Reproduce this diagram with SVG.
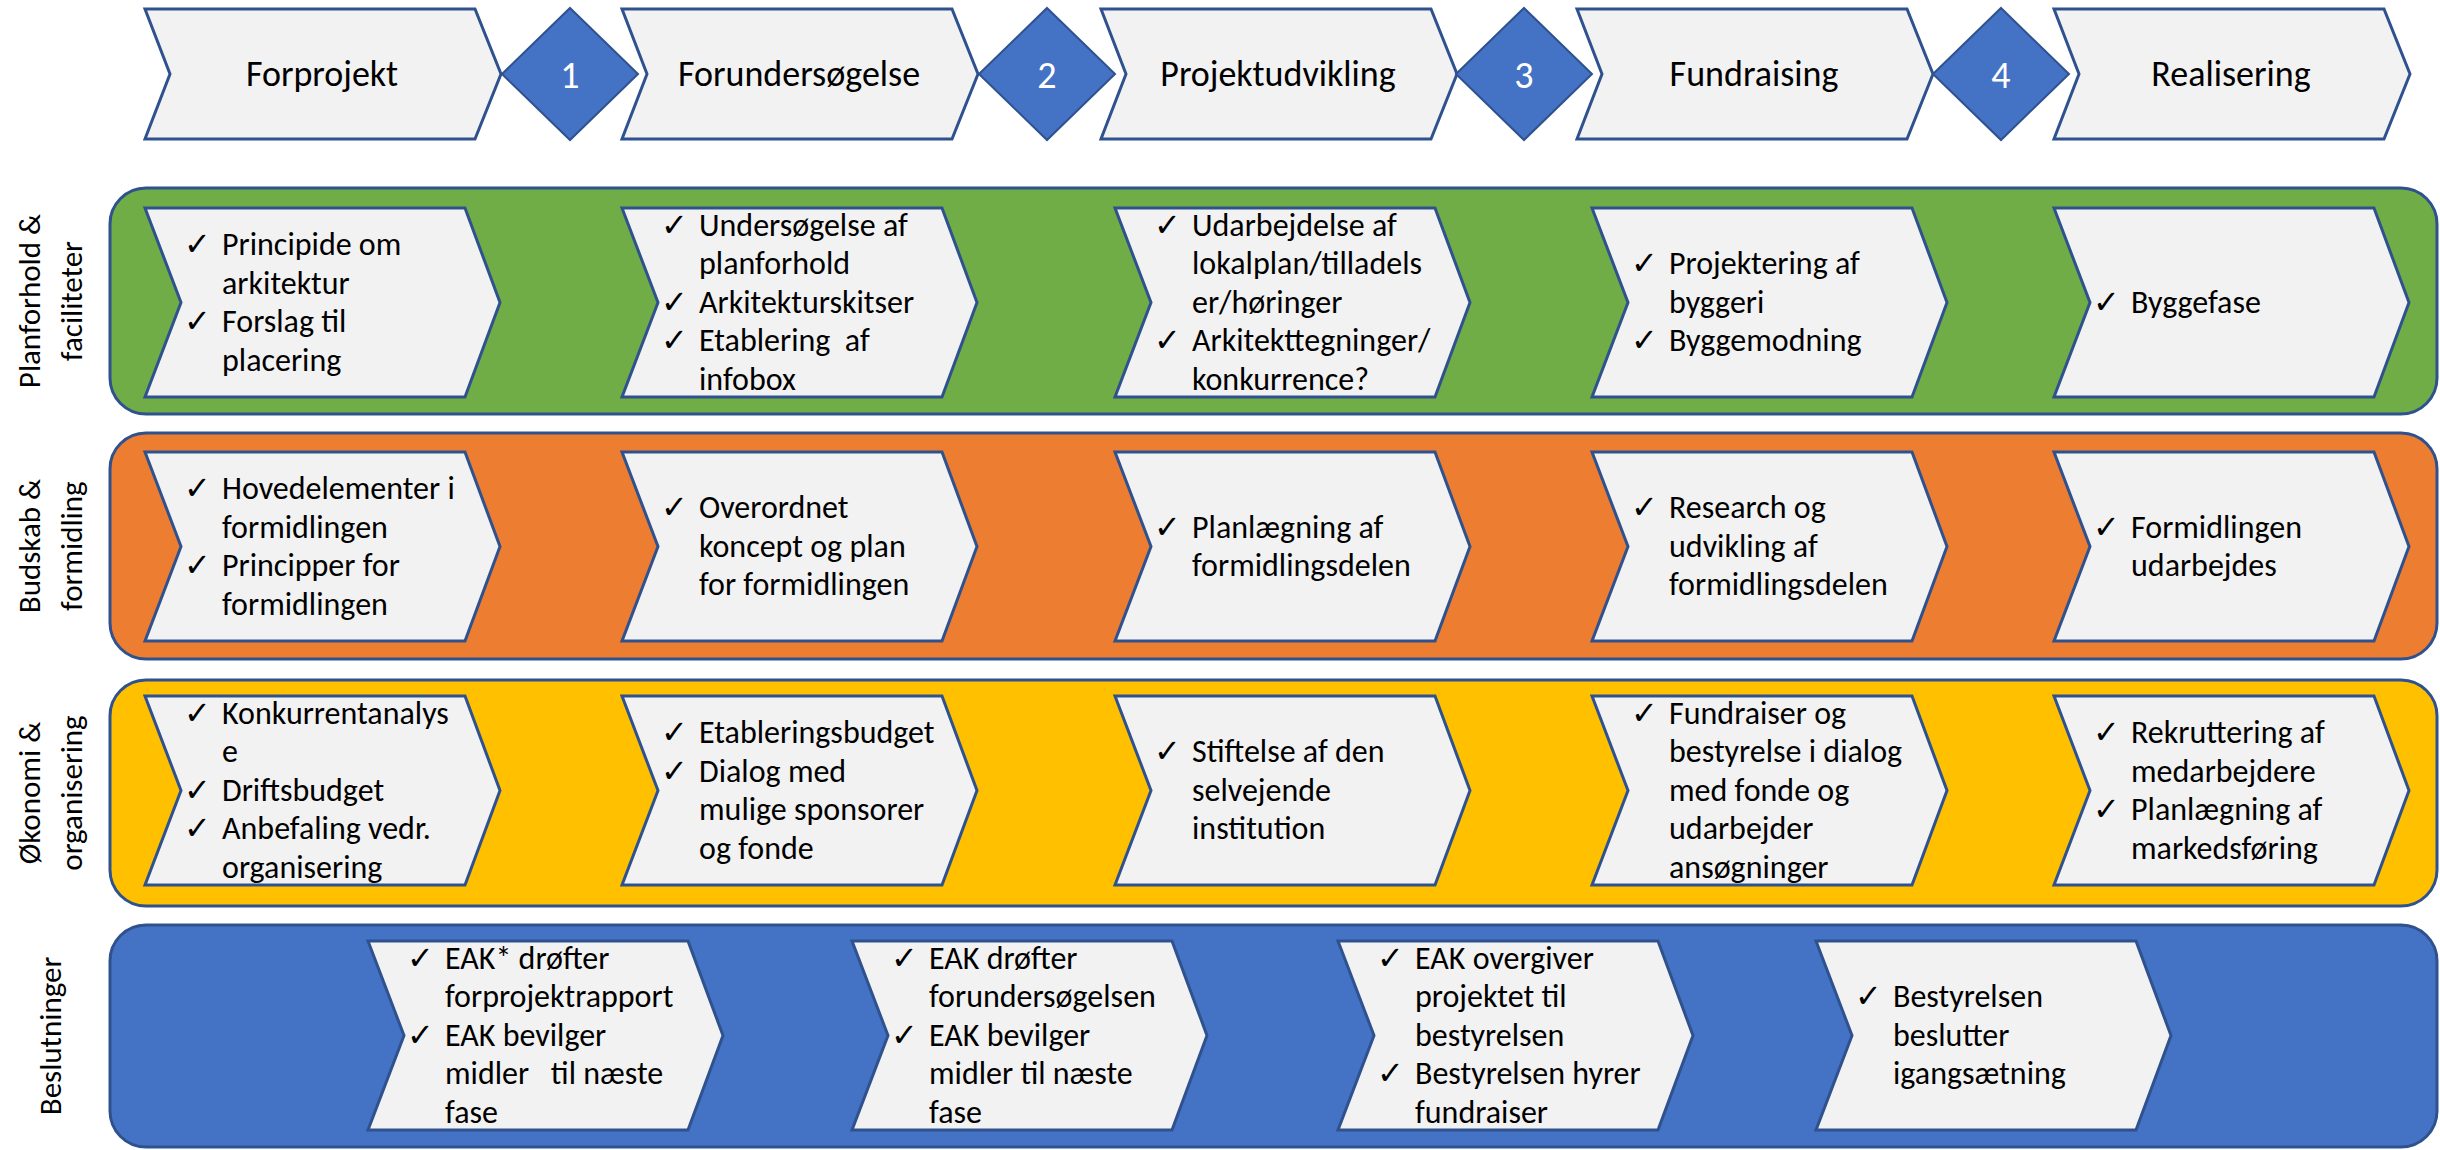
<svg xmlns="http://www.w3.org/2000/svg" xmlns:xlink="http://www.w3.org/1999/xlink" width="2440" height="1150" viewBox="0 0 2440 1150">
<style>
.band{stroke:#2F528F;stroke-width:3}
.chev{fill:#F2F2F2;stroke:#2F528F;stroke-width:3;stroke-linejoin:miter}
.dia{fill:#4472C4;stroke:#2F528F;stroke-width:2}
.t{font-family:Carlito,Calibri,Lato,"Liberation Sans",sans-serif;font-size:32px;fill:#000}
.h{font-family:Carlito,Calibri,Lato,"Liberation Sans",sans-serif;font-size:36px;fill:#000;text-anchor:middle}
.n{font-family:Carlito,Calibri,Lato,"Liberation Sans",sans-serif;font-size:38px;fill:#fff;text-anchor:middle}
.lbl{font-family:Carlito,Calibri,Lato,"Liberation Sans",sans-serif;font-size:31px;fill:#000;text-anchor:middle}
.ck{font-family:"DejaVu Sans",sans-serif;font-size:32px;font-weight:bold;fill:#000}
</style>
<defs>
<path id="topchev" d="M0,0 H330 L356,65 L330,130 H0 L25,65 Z"/>
<path id="inchev" d="M0,0 H320 L355,94.5 L320,189 H0 L36,94.5 Z"/>
<path id="diamond" d="M0,-66 L68,0 L0,66 L-68,0 Z"/>
</defs>
<rect width="2440" height="1150" fill="#fff"/>

<!-- Phase header -->
<g id="phase-forprojekt"><use xlink:href="#topchev" class="chev" x="145" y="9"/><text class="h" x="322" y="86">Forprojekt</text></g>
<g id="phase-forundersoegelse"><use xlink:href="#topchev" class="chev" x="622" y="9"/><text class="h" x="799" y="86">Forundersøgelse</text></g>
<g id="phase-projektudvikling"><use xlink:href="#topchev" class="chev" x="1101" y="9"/><text class="h" x="1278" y="86">Projektudvikling</text></g>
<g id="phase-fundraising"><use xlink:href="#topchev" class="chev" x="1577" y="9"/><text class="h" x="1754" y="86">Fundraising</text></g>
<g id="phase-realisering"><use xlink:href="#topchev" class="chev" x="2054" y="9"/><text class="h" x="2231" y="86">Realisering</text></g>
<g id="gate-1"><use xlink:href="#diamond" class="dia" x="570" y="74"/><text class="n" x="570" y="88">1</text></g>
<g id="gate-2"><use xlink:href="#diamond" class="dia" x="1047" y="74"/><text class="n" x="1047" y="88">2</text></g>
<g id="gate-3"><use xlink:href="#diamond" class="dia" x="1524" y="74"/><text class="n" x="1524" y="88">3</text></g>
<g id="gate-4"><use xlink:href="#diamond" class="dia" x="2001" y="74"/><text class="n" x="2001" y="88">4</text></g>

<!-- Lane labels -->
<g id="label-planforhold"><text class="lbl" transform="translate(40,301) rotate(-90)">Planforhold &amp;</text><text class="lbl" transform="translate(82,301) rotate(-90)">faciliteter</text></g>
<g id="label-budskab"><text class="lbl" transform="translate(40,546) rotate(-90)">Budskab &amp;</text><text class="lbl" transform="translate(82,546) rotate(-90)">formidling</text></g>
<g id="label-oekonomi"><text class="lbl" transform="translate(40,793) rotate(-90)">Økonomi &amp;</text><text class="lbl" transform="translate(82,793) rotate(-90)">organisering</text></g>
<g id="label-beslutninger"><text class="lbl" transform="translate(61,1036) rotate(-90)">Beslutninger</text></g>

<!-- Lanes -->
<g id="lane-green"><rect class="band" x="110" y="188" width="2327" height="226" rx="36" fill="#70AD47"/></g>
<g id="lane-orange"><rect class="band" x="110" y="433" width="2327" height="226" rx="36" fill="#ED7D31"/></g>
<g id="lane-yellow"><rect class="band" x="110" y="680" width="2327" height="226" rx="36" fill="#FFC000"/></g>
<g id="lane-blue"><rect class="band" x="110" y="925" width="2327" height="222" rx="36" fill="#4472C4"/></g>

<!-- Green lane -->
<g id="g1"><use xlink:href="#inchev" class="chev" x="145" y="208"/>
<text class="ck" x="184" y="255">✓</text><text class="t" x="222" y="255">Principide om</text>
<text class="t" x="222" y="293.5">arkitektur</text>
<text class="ck" x="184" y="332">✓</text><text class="t" x="222" y="332">Forslag til</text>
<text class="t" x="222" y="370.5">placering</text></g>
<g id="g2"><use xlink:href="#inchev" class="chev" x="622" y="208"/>
<text class="ck" x="661" y="235.5">✓</text><text class="t" x="699" y="235.5">Undersøgelse af</text>
<text class="t" x="699" y="274">planforhold</text>
<text class="ck" x="661" y="312.5">✓</text><text class="t" x="699" y="312.5">Arkitekturskitser</text>
<text class="ck" x="661" y="351">✓</text><text class="t" x="699" y="351" xml:space="preserve">Etablering  af</text>
<text class="t" x="699" y="389.5">infobox</text></g>
<g id="g3"><use xlink:href="#inchev" class="chev" x="1115" y="208"/>
<text class="ck" x="1154" y="235.5">✓</text><text class="t" x="1192" y="235.5">Udarbejdelse af</text>
<text class="t" x="1192" y="274">lokalplan/tilladels</text>
<text class="t" x="1192" y="312.5">er/høringer</text>
<text class="ck" x="1154" y="351">✓</text><text class="t" x="1192" y="351">Arkitekttegninger/</text>
<text class="t" x="1192" y="389.5">konkurrence?</text></g>
<g id="g4"><use xlink:href="#inchev" class="chev" x="1592" y="208"/>
<text class="ck" x="1631" y="274">✓</text><text class="t" x="1669" y="274">Projektering af</text>
<text class="t" x="1669" y="312.5">byggeri</text>
<text class="ck" x="1631" y="351">✓</text><text class="t" x="1669" y="351">Byggemodning</text></g>
<g id="g5"><use xlink:href="#inchev" class="chev" x="2054" y="208"/>
<text class="ck" x="2093" y="312.5">✓</text><text class="t" x="2131" y="312.5">Byggefase</text></g>

<!-- Orange lane -->
<g id="o1"><use xlink:href="#inchev" class="chev" x="145" y="452"/>
<text class="ck" x="184" y="499">✓</text><text class="t" x="222" y="499">Hovedelementer i</text>
<text class="t" x="222" y="537.5">formidlingen</text>
<text class="ck" x="184" y="576">✓</text><text class="t" x="222" y="576">Principper for</text>
<text class="t" x="222" y="614.5">formidlingen</text></g>
<g id="o2"><use xlink:href="#inchev" class="chev" x="622" y="452"/>
<text class="ck" x="661" y="518">✓</text><text class="t" x="699" y="518">Overordnet</text>
<text class="t" x="699" y="556.5">koncept og plan</text>
<text class="t" x="699" y="595">for formidlingen</text></g>
<g id="o3"><use xlink:href="#inchev" class="chev" x="1115" y="452"/>
<text class="ck" x="1154" y="537.5">✓</text><text class="t" x="1192" y="537.5">Planlægning af</text>
<text class="t" x="1192" y="576">formidlingsdelen</text></g>
<g id="o4"><use xlink:href="#inchev" class="chev" x="1592" y="452"/>
<text class="ck" x="1631" y="518">✓</text><text class="t" x="1669" y="518">Research og</text>
<text class="t" x="1669" y="556.5">udvikling af</text>
<text class="t" x="1669" y="595">formidlingsdelen</text></g>
<g id="o5"><use xlink:href="#inchev" class="chev" x="2054" y="452"/>
<text class="ck" x="2093" y="537.5">✓</text><text class="t" x="2131" y="537.5">Formidlingen</text>
<text class="t" x="2131" y="576">udarbejdes</text></g>

<!-- Yellow lane -->
<g id="y1"><use xlink:href="#inchev" class="chev" x="145" y="696"/>
<text class="ck" x="184" y="723.5">✓</text><text class="t" x="222" y="723.5">Konkurrentanalys</text>
<text class="t" x="222" y="762">e</text>
<text class="ck" x="184" y="800.5">✓</text><text class="t" x="222" y="800.5">Driftsbudget</text>
<text class="ck" x="184" y="839">✓</text><text class="t" x="222" y="839">Anbefaling vedr.</text>
<text class="t" x="222" y="877.5">organisering</text></g>
<g id="y2"><use xlink:href="#inchev" class="chev" x="622" y="696"/>
<text class="ck" x="661" y="743">✓</text><text class="t" x="699" y="743">Etableringsbudget</text>
<text class="ck" x="661" y="781.5">✓</text><text class="t" x="699" y="781.5">Dialog med</text>
<text class="t" x="699" y="820">mulige sponsorer</text>
<text class="t" x="699" y="858.5">og fonde</text></g>
<g id="y3"><use xlink:href="#inchev" class="chev" x="1115" y="696"/>
<text class="ck" x="1154" y="762">✓</text><text class="t" x="1192" y="762">Stiftelse af den</text>
<text class="t" x="1192" y="800.5">selvejende</text>
<text class="t" x="1192" y="839">institution</text></g>
<g id="y4"><use xlink:href="#inchev" class="chev" x="1592" y="696"/>
<text class="ck" x="1631" y="723.5">✓</text><text class="t" x="1669" y="723.5">Fundraiser og</text>
<text class="t" x="1669" y="762">bestyrelse i dialog</text>
<text class="t" x="1669" y="800.5">med fonde og</text>
<text class="t" x="1669" y="839">udarbejder</text>
<text class="t" x="1669" y="877.5">ansøgninger</text></g>
<g id="y5"><use xlink:href="#inchev" class="chev" x="2054" y="696"/>
<text class="ck" x="2093" y="743">✓</text><text class="t" x="2131" y="743">Rekruttering af</text>
<text class="t" x="2131" y="781.5">medarbejdere</text>
<text class="ck" x="2093" y="820">✓</text><text class="t" x="2131" y="820">Planlægning af</text>
<text class="t" x="2131" y="858.5">markedsføring</text></g>

<!-- Blue lane -->
<g id="b1"><use xlink:href="#inchev" class="chev" x="368" y="941"/>
<text class="ck" x="407" y="968.5">✓</text><text class="t" x="445" y="968.5">EAK* drøfter</text>
<text class="t" x="445" y="1007">forprojektrapport</text>
<text class="ck" x="407" y="1045.5">✓</text><text class="t" x="445" y="1045.5">EAK bevilger</text>
<text class="t" x="445" y="1084" xml:space="preserve">midler   til næste</text>
<text class="t" x="445" y="1122.5">fase</text></g>
<g id="b2"><use xlink:href="#inchev" class="chev" x="852" y="941"/>
<text class="ck" x="891" y="968.5">✓</text><text class="t" x="929" y="968.5">EAK drøfter</text>
<text class="t" x="929" y="1007">forundersøgelsen</text>
<text class="ck" x="891" y="1045.5">✓</text><text class="t" x="929" y="1045.5">EAK bevilger</text>
<text class="t" x="929" y="1084">midler til næste</text>
<text class="t" x="929" y="1122.5">fase</text></g>
<g id="b3"><use xlink:href="#inchev" class="chev" x="1338" y="941"/>
<text class="ck" x="1377" y="968.5">✓</text><text class="t" x="1415" y="968.5">EAK overgiver</text>
<text class="t" x="1415" y="1007">projektet til</text>
<text class="t" x="1415" y="1045.5">bestyrelsen</text>
<text class="ck" x="1377" y="1084">✓</text><text class="t" x="1415" y="1084">Bestyrelsen hyrer</text>
<text class="t" x="1415" y="1122.5">fundraiser</text></g>
<g id="b4"><use xlink:href="#inchev" class="chev" x="1816" y="941"/>
<text class="ck" x="1855" y="1007">✓</text><text class="t" x="1893" y="1007">Bestyrelsen</text>
<text class="t" x="1893" y="1045.5">beslutter</text>
<text class="t" x="1893" y="1084">igangsætning</text></g>

<g id="connectors"/>
</svg>
